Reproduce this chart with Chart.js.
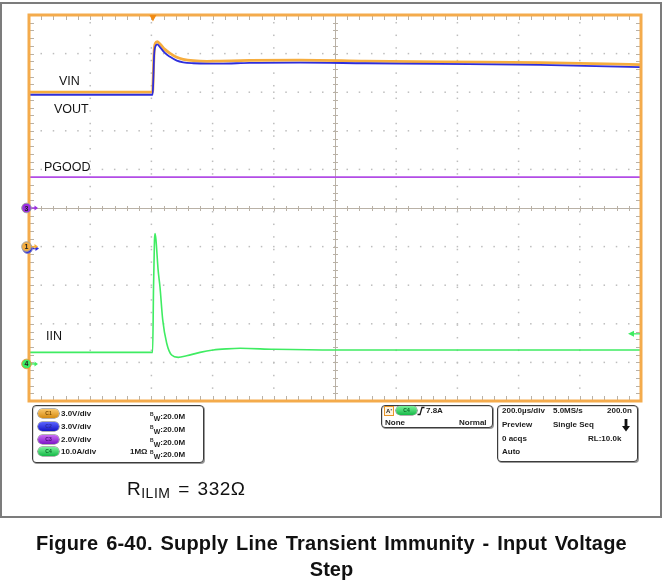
<!DOCTYPE html>
<html>
<head>
<meta charset="utf-8">
<title>Supply Line Transient Immunity - Input Voltage Step</title>
<script src="https://cdn.jsdelivr.net/npm/chart.js@4.4.1/dist/chart.umd.min.js"></script>
<style>
  html, body { margin: 0; padding: 0; background: #fff; }
  #page { position: relative; width: 663px; height: 588px; overflow: hidden; font-family: "Liberation Sans", Arial, Helvetica, sans-serif; }
  #frame { position: absolute; left: 0; top: 2px; width: 662px; height: 516px; box-sizing: border-box; border: 2px solid #7c7c7c; }
  #scope { position: absolute; left: 0; top: 0; }
  .lbl { position: absolute; font-size: 12.5px; line-height: 1; color: #141414; white-space: nowrap; }
  .num { position: absolute; width: 10px; margin-left: -5px; text-align: center; font: bold 7px/8px "Liberation Sans", Arial, sans-serif; color: #222; }
  .box { position: absolute; box-sizing: border-box; border: 1px solid #3c3c3c; border-radius: 4px; box-shadow: 1px 1px 0 #9a9a9a, inset 1px 1px 0 #d8d8d8; background: #fff; }
  .t { position: absolute; font: bold 8px/8px "Liberation Sans", Arial, sans-serif; color: #1c1c1c; white-space: nowrap; }
  .badge { position: absolute; width: 21px; height: 9px; border-radius: 4.5px; font: bold 5px/9px "Liberation Sans", Arial, sans-serif; text-align: center; box-shadow: 0 0 0 0.6px #666; }
  .c1 { background: linear-gradient(#fbc86a, #d58b12); color: #7a4a00; }
  .c2 { background: linear-gradient(#5a64ff, #1414c4); color: #2a2a9a; }
  .c3 { background: linear-gradient(#c86cf4, #7e16c6); color: #4a0a7a; }
  .c4 { background: linear-gradient(#7cf49a, #16b848); color: #0a6a2a; }
  #rilim { position: absolute; left: 127px; top: 479px; font-size: 19px; line-height: 1; letter-spacing: 0.5px; word-spacing: 2px; color: #111; white-space: nowrap; }
  #rilim span { font-size: 14px; position: relative; top: 3px; }
  .cap { position: absolute; left: 0; width: 663px; text-align: center; font: bold 20px/1 "Liberation Sans", Arial, sans-serif; color: #111; }
</style>
</head>
<body>
<div id="page">
  <div id="frame"></div>
  <canvas id="scope" width="663" height="588"></canvas>

  <div class="lbl" style="left:59px;top:75px">VIN</div>
  <div class="lbl" style="left:54px;top:103px">VOUT</div>
  <div class="lbl" style="left:44px;top:161px">PGOOD</div>
  <div class="lbl" style="left:46px;top:330px">IIN</div>

  <div class="num" style="left:26.5px;top:205px">3</div>
  <div class="num" style="left:26.5px;top:243px">1</div>
  <div class="num" style="left:26.5px;top:360px">4</div>

  <!-- vertical settings -->
  <div class="box" style="left:32px;top:405px;width:172px;height:58px"></div>
  <div class="badge c1" style="left:38px;top:409px">C1</div>
  <div class="badge c2" style="left:38px;top:422px">C2</div>
  <div class="badge c3" style="left:38px;top:435px">C3</div>
  <div class="badge c4" style="left:38px;top:447px">C4</div>
  <div class="t" style="left:61px;top:410px">3.0V/div</div>
  <div class="t" style="left:61px;top:423px">3.0V/div</div>
  <div class="t" style="left:61px;top:436px">2.0V/div</div>
  <div class="t" style="left:61px;top:448px">10.0A/div</div>
  <div class="t" style="left:150px;top:410px"><sup style="font-size:5px;vertical-align:3px">B</sup><sub style="font-size:7px;vertical-align:-2px">W</sub>:20.0M</div>
  <div class="t" style="left:150px;top:423px"><sup style="font-size:5px;vertical-align:3px">B</sup><sub style="font-size:7px;vertical-align:-2px">W</sub>:20.0M</div>
  <div class="t" style="left:150px;top:436px"><sup style="font-size:5px;vertical-align:3px">B</sup><sub style="font-size:7px;vertical-align:-2px">W</sub>:20.0M</div>
  <div class="t" style="left:130px;top:448px">1MΩ</div>
  <div class="t" style="left:150px;top:448px"><sup style="font-size:5px;vertical-align:3px">B</sup><sub style="font-size:7px;vertical-align:-2px">W</sub>:20.0M</div>

  <!-- trigger -->
  <div class="box" style="left:381px;top:405px;width:112px;height:23px"></div>
  <div class="t" style="left:384px;top:406px;width:8px;height:8px;border:1px solid #e8962a;background:#fff4e0;font-size:6px;text-align:center">A'</div>
  <div class="badge c4" style="left:396px;top:406px">C4</div>
  <svg style="position:absolute;left:417px;top:406px" width="8" height="10"><path d="M0.5 8.5 H3 L5 1.5 H7.5" fill="none" stroke="#1c1c1c" stroke-width="1.3"/></svg>
  <div class="t" style="left:426px;top:407px">7.8A</div>
  <div class="t" style="left:385px;top:419px">None</div>
  <div class="t" style="left:459px;top:419px">Normal</div>

  <!-- acquisition -->
  <div class="box" style="left:497px;top:405px;width:141px;height:57px"></div>
  <div class="t" style="left:502px;top:407px">200.0µs/div</div>
  <div class="t" style="left:553px;top:407px">5.0MS/s</div>
  <div class="t" style="left:607px;top:407px">200.0n</div>
  <div class="t" style="left:502px;top:421px">Preview</div>
  <div class="t" style="left:553px;top:421px">Single Seq</div>
  <svg style="position:absolute;left:622px;top:419px" width="8" height="13"><path d="M2.6 0 H5.4 V7 H8 L4 12.5 L0 7 H2.6 Z" fill="#111"/></svg>
  <div class="t" style="left:502px;top:435px">0 acqs</div>
  <div class="t" style="left:588px;top:435px">RL:10.0k</div>
  <div class="t" style="left:502px;top:448px">Auto</div>

  <div id="rilim">R<span>ILIM</span> = 332Ω</div>

  <div class="cap" style="top:533px;letter-spacing:0.2px;word-spacing:2px">Figure 6-40. Supply Line Transient Immunity - Input Voltage</div>
  <div class="cap" style="top:559px">Step</div>
</div>

<script>
// time base: 200 us/div, ten divisions, trigger two divisions in
const timeMinUs = -400;
const timeMaxUs = 1600;
const usPerDiv = 200;
const triggerTimeUs = 5;
const triggerLevelAmps = 7.8;

// C1 input voltage (V)
const vinTimeUs = [-400, 4, 6, 9, 13, 19, 28, 44, 61, 83, 104, 137, 181, 224, 320, 486, 700, 943, 1270, 1597];
const vinVolts = [12.0, 12.0, 13.2, 15.2, 15.8, 15.93, 15.75, 15.33, 15.02, 14.71, 14.56, 14.45, 14.4, 14.42, 14.47, 14.5, 14.42, 14.35, 14.3, 14.14];

// C2 output voltage (V)
const voutTimeUs = [-400, 4, 6, 9, 13, 19, 28, 44, 61, 83, 104, 137, 181, 224, 320, 486, 700, 943, 1270, 1597];
const voutVolts = [11.8, 11.8, 12.8, 14.9, 15.55, 15.72, 15.5, 15.05, 14.75, 14.45, 14.32, 14.25, 14.22, 14.22, 14.28, 14.3, 14.25, 14.2, 14.12, 13.95];

// C3 power good (V)
const pgoodTimeUs = [-400, 1600];
const pgoodVolts = [1.6, 1.6];

// C4 input current (A)
const iinTimeUs = [-400, 4, 7, 10, 12, 15, 22, 28, 37, 50, 66, 88, 115, 159, 202, 246, 290, 400, 600, 1000, 1600];
const iinAmps = [3.0, 3.0, 20, 32, 33.8, 32.1, 24.3, 20.0, 11.4, 5.35, 2.3, 1.7, 2.1, 3.0, 3.6, 3.9, 4.05, 3.8, 3.6, 3.6, 3.6];

// vertical setup: units per division, ground marker in divisions from centre
const ch1 = { perDiv: 3, zero: -1, color: '#f6ad3e' };
const ch2 = { perDiv: 3, zero: -1, color: '#2e2edc' };
const ch3 = { perDiv: 2, zero: 0, color: '#b24ce6' };
const ch4 = { perDiv: 10, zero: -4.04, color: '#3fec62' };

const toDiv = (ch, v) => v / ch.perDiv + ch.zero;
const trace = (ch, ts, vs) => ts.map((t, i) => ({ x: t, y: toDiv(ch, vs[i]) }));

// dotted divisions, centre crosshair and edge ticks
const graticule = {
  id: 'graticule',
  beforeDatasetsDraw(chart) {
    const { ctx, chartArea: a, scales: { x, y } } = chart;
    const minorX = (x.getPixelForValue(usPerDiv) - x.getPixelForValue(0)) / 5;
    const minorY = (y.getPixelForValue(0) - y.getPixelForValue(1)) / 5;
    ctx.save();
    ctx.fillStyle = '#bdbdbd';
    for (let d = 1; d < 10; d++) {
      if (d === 5) continue;
      const gx = x.getPixelForValue(timeMinUs + d * usPerDiv);
      for (let py = a.top + minorY; py < a.bottom - 3; py += 12.6) ctx.fillRect(gx - 0.75, py - 0.75, 1.5, 1.5);
      const gy = y.getPixelForValue(-5 + d);
      for (let px = a.left + minorX; px < a.right - 3; px += minorX) ctx.fillRect(px - 0.75, gy - 0.75, 1.5, 1.5);
    }
    const cx = x.getPixelForValue(timeMinUs + 5 * usPerDiv);
    const cy = y.getPixelForValue(0);
    ctx.strokeStyle = '#b9b1a6';
    ctx.lineWidth = 1;
    ctx.beginPath();
    ctx.moveTo(a.left, cy + 0.5); ctx.lineTo(a.right, cy + 0.5);
    ctx.moveTo(cx + 0.5, a.top); ctx.lineTo(cx + 0.5, a.bottom);
    for (let i = 1; i < 50; i++) {
      const px = Math.round(a.left + i * minorX) + 0.5;
      const py = Math.round(a.top + i * minorY) + 0.5;
      ctx.moveTo(px, cy - 2); ctx.lineTo(px, cy + 3);
      ctx.moveTo(cx - 2, py); ctx.lineTo(cx + 3, py);
      ctx.moveTo(px, a.top + 1); ctx.lineTo(px, a.top + 5);
      ctx.moveTo(px, a.bottom - 1); ctx.lineTo(px, a.bottom - 5);
      ctx.moveTo(a.left + 1, py); ctx.lineTo(a.left + 5, py);
      ctx.moveTo(a.right - 1, py); ctx.lineTo(a.right - 5, py);
    }
    ctx.stroke();
    ctx.restore();
  }
};

function groundMarker(ctx, cx, cy, color, ring) {
  ctx.strokeStyle = color;
  ctx.fillStyle = color;
  ctx.lineWidth = 1.4;
  ctx.beginPath(); ctx.moveTo(cx + 4, cy); ctx.lineTo(cx + 9, cy); ctx.stroke();
  ctx.beginPath(); ctx.moveTo(cx + 11.5, cy); ctx.lineTo(cx + 8, cy - 2.5); ctx.lineTo(cx + 8, cy + 2.5); ctx.closePath(); ctx.fill();
  ctx.beginPath(); ctx.arc(cx, cy, 4.8, 0, Math.PI * 2); ctx.fill();
  ctx.strokeStyle = ring;
  ctx.lineWidth = 1;
  ctx.stroke();
}

// orange frame, trigger and ground markers
const markers = {
  id: 'markers',
  afterDatasetsDraw(chart) {
    const { ctx, chartArea: a, scales: { x, y } } = chart;
    ctx.save();
    ctx.strokeStyle = '#f4ab4c';
    ctx.lineWidth = 3;
    ctx.strokeRect(a.left, a.top, a.right - a.left, a.bottom - a.top);

    const tx = x.getPixelForValue(triggerTimeUs);
    ctx.fillStyle = '#f08a12';
    ctx.beginPath(); ctx.moveTo(tx - 3.5, a.top); ctx.lineTo(tx + 3.5, a.top); ctx.lineTo(tx, a.top + 6.5); ctx.closePath(); ctx.fill();

    const ty = y.getPixelForValue(toDiv(ch4, triggerLevelAmps));
    ctx.fillStyle = ch4.color;
    ctx.strokeStyle = ch4.color;
    ctx.lineWidth = 1.3;
    ctx.beginPath(); ctx.moveTo(a.right - 13, ty); ctx.lineTo(a.right - 7, ty - 3); ctx.lineTo(a.right - 7, ty + 3); ctx.closePath(); ctx.fill();
    ctx.beginPath(); ctx.moveTo(a.right - 7, ty); ctx.lineTo(a.right - 1, ty); ctx.stroke();

    const mx = a.left - 2.5;
    groundMarker(ctx, mx + 1, y.getPixelForValue(ch2.zero) + 2, ch2.color, '#8080c0');
    groundMarker(ctx, mx, y.getPixelForValue(ch1.zero), ch1.color, '#a0a0a0');
    groundMarker(ctx, mx, y.getPixelForValue(ch3.zero), '#9a2ee0', '#a0a0a0');
    groundMarker(ctx, mx, y.getPixelForValue(ch4.zero), ch4.color, '#e2a040');
    ctx.restore();
  }
};

const lineSet = (data, color, width, order) => ({
  data, borderColor: color, borderWidth: width, pointRadius: 0,
  cubicInterpolationMode: 'monotone', fill: false, order
});

new Chart('scope', {
  type: 'line',
  data: {
    datasets: [
      lineSet(trace(ch3, pgoodTimeUs, pgoodVolts), ch3.color, 1.6, 3),
      lineSet(trace(ch1, vinTimeUs, vinVolts), ch1.color, 2.8, 2),
      lineSet(trace(ch2, voutTimeUs, voutVolts), ch2.color, 1.8, 1),
      lineSet(trace(ch4, iinTimeUs, iinAmps), ch4.color, 1.6, 0)
    ]
  },
  options: {
    responsive: false,
    animation: false,
    devicePixelRatio: 1,
    layout: { padding: { left: 29, top: 15, right: 22, bottom: 187 } },
    scales: {
      x: { type: 'linear', min: timeMinUs, max: timeMaxUs, display: false },
      y: { type: 'linear', min: -5, max: 5, display: false }
    },
    plugins: { legend: { display: false }, tooltip: { enabled: false } }
  },
  plugins: [graticule, markers]
});
</script>
</body>
</html>
